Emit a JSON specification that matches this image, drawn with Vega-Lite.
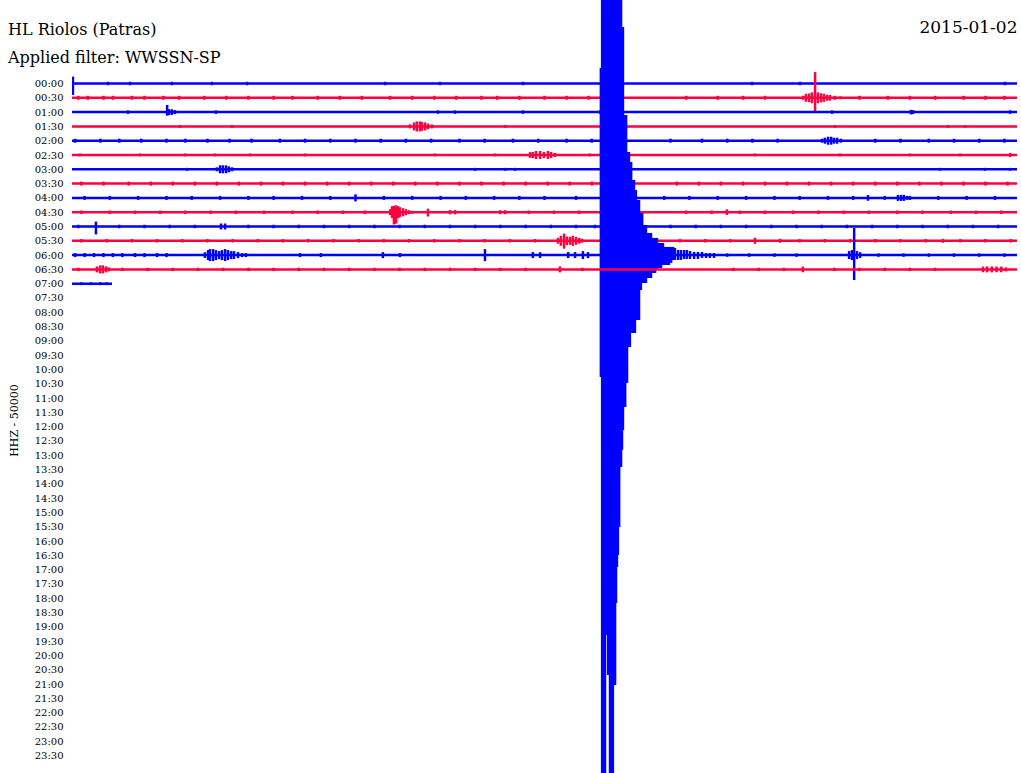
{
"$schema":"https://vega.github.io/schema/vega-lite/v6.json",
"width":945,"height":773,
"autosize":{"type":"none"},
"padding":{"left":72,"top":0,"right":4,"bottom":0},
"background":"#ffffff",
"config":{"view":{"stroke":null}},
"title":{"text":"HL Riolos (Patras)","subtitle":"Applied filter: WWSSN-SP","anchor":"start","frame":"group","orient":"top","dx":-64,"offset":-66,"font":"DejaVu Serif","fontSize":16,"fontWeight":"normal","color":"#000000","subtitleFont":"DejaVu Serif","subtitleFontSize":16,"subtitleColor":"#000000","subtitlePadding":12},
"data":{"values":[
{"r":0,"t":0,"t2":30,"lo":0,"hi":0},
{"r":0,"t":0.03,"t2":0.03,"lo":-0.48,"hi":0.8},
{"r":0,"t":1.14,"t2":1.14,"lo":-0.12,"hi":0.12},
{"r":0,"t":1.84,"t2":1.84,"lo":-0.12,"hi":0.12},
{"r":0,"t":3.17,"t2":3.17,"lo":-0.12,"hi":0.12},
{"r":0,"t":4.44,"t2":4.44,"lo":-0.12,"hi":0.12},
{"r":0,"t":5.56,"t2":5.56,"lo":-0.12,"hi":0.12},
{"r":0,"t":9.94,"t2":9.94,"lo":-0.12,"hi":0.12},
{"r":0,"t":11.68,"t2":11.68,"lo":-0.12,"hi":0.12},
{"r":0,"t":14.32,"t2":14.32,"lo":-0.12,"hi":0.12},
{"r":0,"t":21.59,"t2":21.59,"lo":-0.12,"hi":0.12},
{"r":0,"t":23.11,"t2":23.11,"lo":-0.12,"hi":0.12},
{"r":0,"t":29.62,"t2":29.62,"lo":-0.12,"hi":0.12},
{"r":1,"t":0,"t2":30,"lo":1,"hi":1},
{"r":1,"t":0.2,"t2":0.2,"lo":0.86,"hi":1.14},
{"r":1,"t":0.5,"t2":0.5,"lo":0.86,"hi":1.14},
{"r":1,"t":1.0,"t2":1.0,"lo":0.86,"hi":1.14},
{"r":1,"t":1.3,"t2":1.3,"lo":0.86,"hi":1.14},
{"r":1,"t":1.9,"t2":1.9,"lo":0.86,"hi":1.14},
{"r":1,"t":2.3,"t2":2.3,"lo":0.86,"hi":1.14},
{"r":1,"t":2.9,"t2":2.9,"lo":0.86,"hi":1.14},
{"r":1,"t":3.4,"t2":3.4,"lo":0.86,"hi":1.14},
{"r":1,"t":4.2,"t2":4.2,"lo":0.86,"hi":1.14},
{"r":1,"t":4.9,"t2":4.9,"lo":0.86,"hi":1.14},
{"r":1,"t":5.6,"t2":5.6,"lo":0.86,"hi":1.14},
{"r":1,"t":6.4,"t2":6.4,"lo":0.86,"hi":1.14},
{"r":1,"t":7.0,"t2":7.0,"lo":0.86,"hi":1.14},
{"r":1,"t":7.8,"t2":7.8,"lo":0.86,"hi":1.14},
{"r":1,"t":8.5,"t2":8.5,"lo":0.86,"hi":1.14},
{"r":1,"t":9.2,"t2":9.2,"lo":0.86,"hi":1.14},
{"r":1,"t":10.1,"t2":10.1,"lo":0.86,"hi":1.14},
{"r":1,"t":10.8,"t2":10.8,"lo":0.86,"hi":1.14},
{"r":1,"t":11.5,"t2":11.5,"lo":0.86,"hi":1.14},
{"r":1,"t":12.2,"t2":12.2,"lo":0.86,"hi":1.14},
{"r":1,"t":13.0,"t2":13.0,"lo":0.86,"hi":1.14},
{"r":1,"t":13.5,"t2":13.5,"lo":0.86,"hi":1.14},
{"r":1,"t":14.2,"t2":14.2,"lo":0.86,"hi":1.14},
{"r":1,"t":15.0,"t2":15.0,"lo":0.86,"hi":1.14},
{"r":1,"t":15.7,"t2":15.7,"lo":0.86,"hi":1.14},
{"r":1,"t":16.4,"t2":16.4,"lo":0.86,"hi":1.14},
{"r":1,"t":19.5,"t2":19.5,"lo":0.86,"hi":1.14},
{"r":1,"t":20.5,"t2":20.5,"lo":0.86,"hi":1.14},
{"r":1,"t":21.3,"t2":21.3,"lo":0.86,"hi":1.14},
{"r":1,"t":22.0,"t2":22.0,"lo":0.86,"hi":1.14},
{"r":1,"t":23.21,"t2":23.21,"lo":0.86,"hi":1.14},
{"r":1,"t":23.30,"t2":23.30,"lo":0.72,"hi":1.28},
{"r":1,"t":23.40,"t2":23.40,"lo":0.7,"hi":1.3},
{"r":1,"t":23.49,"t2":23.49,"lo":0.62,"hi":1.38},
{"r":1,"t":23.59,"t2":23.59,"lo":-0.8,"hi":1.97},
{"r":1,"t":23.68,"t2":23.68,"lo":0.62,"hi":1.38},
{"r":1,"t":23.78,"t2":23.78,"lo":0.68,"hi":1.32},
{"r":1,"t":23.87,"t2":23.87,"lo":0.72,"hi":1.28},
{"r":1,"t":23.97,"t2":23.97,"lo":0.79,"hi":1.21},
{"r":1,"t":24.06,"t2":24.06,"lo":0.8,"hi":1.2},
{"r":1,"t":24.22,"t2":24.22,"lo":0.86,"hi":1.14},
{"r":1,"t":24.38,"t2":24.38,"lo":0.9,"hi":1.1},
{"r":1,"t":25.0,"t2":25.0,"lo":0.86,"hi":1.14},
{"r":1,"t":25.9,"t2":25.9,"lo":0.86,"hi":1.14},
{"r":1,"t":26.6,"t2":26.6,"lo":0.86,"hi":1.14},
{"r":1,"t":27.4,"t2":27.4,"lo":0.86,"hi":1.14},
{"r":1,"t":28.3,"t2":28.3,"lo":0.86,"hi":1.14},
{"r":1,"t":29.0,"t2":29.0,"lo":0.86,"hi":1.14},
{"r":1,"t":29.6,"t2":29.6,"lo":0.86,"hi":1.14},
{"r":2,"t":0,"t2":30,"lo":2,"hi":2},
{"r":2,"t":1.78,"t2":1.78,"lo":1.88,"hi":2.12},
{"r":2,"t":3.02,"t2":3.02,"lo":1.5,"hi":2.25},
{"r":2,"t":3.08,"t2":3.08,"lo":1.79,"hi":2.21},
{"r":2,"t":3.17,"t2":3.17,"lo":1.8,"hi":2.2},
{"r":2,"t":3.27,"t2":3.27,"lo":1.86,"hi":2.14},
{"r":2,"t":4.57,"t2":4.57,"lo":1.88,"hi":2.12},
{"r":2,"t":11.62,"t2":11.62,"lo":1.88,"hi":2.12},
{"r":2,"t":12.16,"t2":12.16,"lo":1.88,"hi":2.12},
{"r":2,"t":14.32,"t2":14.32,"lo":1.88,"hi":2.12},
{"r":2,"t":16.76,"t2":16.76,"lo":1.88,"hi":2.12},
{"r":2,"t":24.13,"t2":24.13,"lo":1.88,"hi":2.12},
{"r":2,"t":26.63,"t2":26.63,"lo":1.84,"hi":2.16},
{"r":2,"t":26.70,"t2":26.70,"lo":1.86,"hi":2.14},
{"r":2,"t":29.78,"t2":29.78,"lo":1.88,"hi":2.12},
{"r":3,"t":0,"t2":30,"lo":3,"hi":3},
{"r":3,"t":3.43,"t2":3.43,"lo":2.9,"hi":3.1},
{"r":3,"t":5.08,"t2":5.08,"lo":2.9,"hi":3.1},
{"r":3,"t":10.73,"t2":10.73,"lo":2.86,"hi":3.14},
{"r":3,"t":10.86,"t2":10.86,"lo":2.72,"hi":3.28},
{"r":3,"t":10.95,"t2":10.95,"lo":2.65,"hi":3.35},
{"r":3,"t":11.05,"t2":11.05,"lo":2.65,"hi":3.35},
{"r":3,"t":11.11,"t2":11.11,"lo":2.7,"hi":3.3},
{"r":3,"t":11.21,"t2":11.21,"lo":2.72,"hi":3.28},
{"r":3,"t":11.30,"t2":11.30,"lo":2.8,"hi":3.2},
{"r":3,"t":11.43,"t2":11.43,"lo":2.86,"hi":3.14},
{"r":3,"t":13.75,"t2":13.75,"lo":2.9,"hi":3.1},
{"r":3,"t":24.22,"t2":24.22,"lo":2.9,"hi":3.1},
{"r":3,"t":27.81,"t2":27.81,"lo":2.9,"hi":3.1},
{"r":3,"t":28.35,"t2":28.35,"lo":2.9,"hi":3.1},
{"r":4,"t":0,"t2":30,"lo":4,"hi":4},
{"r":4,"t":0.1,"t2":0.1,"lo":3.86,"hi":4.14},
{"r":4,"t":0.9,"t2":0.9,"lo":3.86,"hi":4.14},
{"r":4,"t":1.5,"t2":1.5,"lo":3.86,"hi":4.14},
{"r":4,"t":2.2,"t2":2.2,"lo":3.86,"hi":4.14},
{"r":4,"t":3.0,"t2":3.0,"lo":3.86,"hi":4.14},
{"r":4,"t":3.6,"t2":3.6,"lo":3.86,"hi":4.14},
{"r":4,"t":4.3,"t2":4.3,"lo":3.86,"hi":4.14},
{"r":4,"t":5.0,"t2":5.0,"lo":3.86,"hi":4.14},
{"r":4,"t":5.7,"t2":5.7,"lo":3.86,"hi":4.14},
{"r":4,"t":6.6,"t2":6.6,"lo":3.86,"hi":4.14},
{"r":4,"t":7.4,"t2":7.4,"lo":3.86,"hi":4.14},
{"r":4,"t":8.2,"t2":8.2,"lo":3.86,"hi":4.14},
{"r":4,"t":9.0,"t2":9.0,"lo":3.86,"hi":4.14},
{"r":4,"t":9.8,"t2":9.8,"lo":3.86,"hi":4.14},
{"r":4,"t":10.6,"t2":10.6,"lo":3.86,"hi":4.14},
{"r":4,"t":11.4,"t2":11.4,"lo":3.86,"hi":4.14},
{"r":4,"t":12.3,"t2":12.3,"lo":3.86,"hi":4.14},
{"r":4,"t":13.1,"t2":13.1,"lo":3.86,"hi":4.14},
{"r":4,"t":14.0,"t2":14.0,"lo":3.86,"hi":4.14},
{"r":4,"t":14.8,"t2":14.8,"lo":3.86,"hi":4.14},
{"r":4,"t":15.7,"t2":15.7,"lo":3.86,"hi":4.14},
{"r":4,"t":16.5,"t2":16.5,"lo":3.86,"hi":4.14},
{"r":4,"t":19.0,"t2":19.0,"lo":3.86,"hi":4.14},
{"r":4,"t":20.0,"t2":20.0,"lo":3.86,"hi":4.14},
{"r":4,"t":20.8,"t2":20.8,"lo":3.86,"hi":4.14},
{"r":4,"t":21.6,"t2":21.6,"lo":3.86,"hi":4.14},
{"r":4,"t":22.4,"t2":22.4,"lo":3.86,"hi":4.14},
{"r":4,"t":23.81,"t2":23.81,"lo":3.86,"hi":4.14},
{"r":4,"t":23.90,"t2":23.90,"lo":3.79,"hi":4.21},
{"r":4,"t":24.0,"t2":24.0,"lo":3.72,"hi":4.28},
{"r":4,"t":24.1,"t2":24.1,"lo":3.72,"hi":4.28},
{"r":4,"t":24.19,"t2":24.19,"lo":3.79,"hi":4.21},
{"r":4,"t":24.29,"t2":24.29,"lo":3.79,"hi":4.21},
{"r":4,"t":24.41,"t2":24.41,"lo":3.86,"hi":4.14},
{"r":4,"t":25.5,"t2":25.5,"lo":3.86,"hi":4.14},
{"r":4,"t":26.3,"t2":26.3,"lo":3.86,"hi":4.14},
{"r":4,"t":27.2,"t2":27.2,"lo":3.86,"hi":4.14},
{"r":4,"t":28.0,"t2":28.0,"lo":3.86,"hi":4.14},
{"r":4,"t":28.8,"t2":28.8,"lo":3.86,"hi":4.14},
{"r":4,"t":29.6,"t2":29.6,"lo":3.86,"hi":4.14},
{"r":5,"t":0,"t2":30,"lo":5,"hi":5},
{"r":5,"t":0.25,"t2":0.25,"lo":4.9,"hi":5.1},
{"r":5,"t":2.16,"t2":2.16,"lo":4.9,"hi":5.1},
{"r":5,"t":3.59,"t2":3.59,"lo":4.9,"hi":5.1},
{"r":5,"t":4.54,"t2":4.54,"lo":4.9,"hi":5.1},
{"r":5,"t":5.65,"t2":5.65,"lo":4.9,"hi":5.1},
{"r":5,"t":7.4,"t2":7.4,"lo":4.9,"hi":5.1},
{"r":5,"t":11.52,"t2":11.52,"lo":4.9,"hi":5.1},
{"r":5,"t":13.43,"t2":13.43,"lo":4.9,"hi":5.1},
{"r":5,"t":14.54,"t2":14.54,"lo":4.8,"hi":5.2},
{"r":5,"t":14.63,"t2":14.63,"lo":4.79,"hi":5.21},
{"r":5,"t":14.73,"t2":14.73,"lo":4.72,"hi":5.28},
{"r":5,"t":14.86,"t2":14.86,"lo":4.72,"hi":5.28},
{"r":5,"t":14.98,"t2":14.98,"lo":4.79,"hi":5.21},
{"r":5,"t":15.11,"t2":15.11,"lo":4.72,"hi":5.28},
{"r":5,"t":15.21,"t2":15.21,"lo":4.79,"hi":5.21},
{"r":5,"t":15.33,"t2":15.33,"lo":4.86,"hi":5.14},
{"r":5,"t":16.44,"t2":16.44,"lo":4.9,"hi":5.1},
{"r":5,"t":21.68,"t2":21.68,"lo":4.9,"hi":5.1},
{"r":5,"t":24.38,"t2":24.38,"lo":4.9,"hi":5.1},
{"r":5,"t":26.6,"t2":26.6,"lo":4.9,"hi":5.1},
{"r":5,"t":28.19,"t2":28.19,"lo":4.9,"hi":5.1},
{"r":5,"t":29.78,"t2":29.78,"lo":4.85,"hi":5.15},
{"r":6,"t":0,"t2":30,"lo":6,"hi":6},
{"r":6,"t":3.65,"t2":3.65,"lo":5.9,"hi":6.1},
{"r":6,"t":4.60,"t2":4.60,"lo":5.86,"hi":6.14},
{"r":6,"t":4.70,"t2":4.70,"lo":5.72,"hi":6.28},
{"r":6,"t":4.79,"t2":4.79,"lo":5.72,"hi":6.28},
{"r":6,"t":4.89,"t2":4.89,"lo":5.72,"hi":6.28},
{"r":6,"t":4.98,"t2":4.98,"lo":5.79,"hi":6.21},
{"r":6,"t":5.08,"t2":5.08,"lo":5.86,"hi":6.14},
{"r":6,"t":12.79,"t2":12.79,"lo":5.9,"hi":6.1},
{"r":6,"t":13.75,"t2":13.75,"lo":5.9,"hi":6.1},
{"r":6,"t":14.06,"t2":14.06,"lo":5.9,"hi":6.1},
{"r":6,"t":27.56,"t2":27.56,"lo":5.9,"hi":6.1},
{"r":6,"t":28.98,"t2":28.98,"lo":5.9,"hi":6.1},
{"r":6,"t":29.78,"t2":29.78,"lo":5.9,"hi":6.1},
{"r":7,"t":0,"t2":30,"lo":7,"hi":7},
{"r":7,"t":0.3,"t2":0.3,"lo":6.86,"hi":7.14},
{"r":7,"t":1.0,"t2":1.0,"lo":6.86,"hi":7.14},
{"r":7,"t":1.8,"t2":1.8,"lo":6.86,"hi":7.14},
{"r":7,"t":2.5,"t2":2.5,"lo":6.86,"hi":7.14},
{"r":7,"t":3.2,"t2":3.2,"lo":6.86,"hi":7.14},
{"r":7,"t":3.9,"t2":3.9,"lo":6.86,"hi":7.14},
{"r":7,"t":4.6,"t2":4.6,"lo":6.86,"hi":7.14},
{"r":7,"t":5.3,"t2":5.3,"lo":6.86,"hi":7.14},
{"r":7,"t":6.0,"t2":6.0,"lo":6.86,"hi":7.14},
{"r":7,"t":6.7,"t2":6.7,"lo":6.86,"hi":7.14},
{"r":7,"t":7.4,"t2":7.4,"lo":6.86,"hi":7.14},
{"r":7,"t":8.1,"t2":8.1,"lo":6.86,"hi":7.14},
{"r":7,"t":8.8,"t2":8.8,"lo":6.86,"hi":7.14},
{"r":7,"t":9.5,"t2":9.5,"lo":6.86,"hi":7.14},
{"r":7,"t":10.2,"t2":10.2,"lo":6.86,"hi":7.14},
{"r":7,"t":10.9,"t2":10.9,"lo":6.86,"hi":7.14},
{"r":7,"t":11.6,"t2":11.6,"lo":6.86,"hi":7.14},
{"r":7,"t":12.3,"t2":12.3,"lo":6.86,"hi":7.14},
{"r":7,"t":13.0,"t2":13.0,"lo":6.86,"hi":7.14},
{"r":7,"t":13.7,"t2":13.7,"lo":6.86,"hi":7.14},
{"r":7,"t":14.4,"t2":14.4,"lo":6.86,"hi":7.14},
{"r":7,"t":15.1,"t2":15.1,"lo":6.86,"hi":7.14},
{"r":7,"t":15.8,"t2":15.8,"lo":6.86,"hi":7.14},
{"r":7,"t":16.5,"t2":16.5,"lo":6.86,"hi":7.14},
{"r":7,"t":19.2,"t2":19.2,"lo":6.86,"hi":7.14},
{"r":7,"t":19.9,"t2":19.9,"lo":6.86,"hi":7.14},
{"r":7,"t":20.6,"t2":20.6,"lo":6.86,"hi":7.14},
{"r":7,"t":21.3,"t2":21.3,"lo":6.86,"hi":7.14},
{"r":7,"t":22.0,"t2":22.0,"lo":6.86,"hi":7.14},
{"r":7,"t":22.7,"t2":22.7,"lo":6.86,"hi":7.14},
{"r":7,"t":23.4,"t2":23.4,"lo":6.86,"hi":7.14},
{"r":7,"t":24.1,"t2":24.1,"lo":6.86,"hi":7.14},
{"r":7,"t":24.8,"t2":24.8,"lo":6.86,"hi":7.14},
{"r":7,"t":25.5,"t2":25.5,"lo":6.86,"hi":7.14},
{"r":7,"t":26.2,"t2":26.2,"lo":6.86,"hi":7.14},
{"r":7,"t":26.9,"t2":26.9,"lo":6.86,"hi":7.14},
{"r":7,"t":27.6,"t2":27.6,"lo":6.86,"hi":7.14},
{"r":7,"t":28.3,"t2":28.3,"lo":6.86,"hi":7.14},
{"r":7,"t":29.0,"t2":29.0,"lo":6.86,"hi":7.14},
{"r":7,"t":29.7,"t2":29.7,"lo":6.86,"hi":7.14},
{"r":8,"t":0,"t2":30,"lo":8,"hi":8},
{"r":8,"t":0.4,"t2":0.4,"lo":7.86,"hi":8.14},
{"r":8,"t":1.2,"t2":1.2,"lo":7.86,"hi":8.14},
{"r":8,"t":2.1,"t2":2.1,"lo":7.86,"hi":8.14},
{"r":8,"t":3.0,"t2":3.0,"lo":7.86,"hi":8.14},
{"r":8,"t":3.8,"t2":3.8,"lo":7.86,"hi":8.14},
{"r":8,"t":4.7,"t2":4.7,"lo":7.86,"hi":8.14},
{"r":8,"t":5.6,"t2":5.6,"lo":7.86,"hi":8.14},
{"r":8,"t":6.4,"t2":6.4,"lo":7.86,"hi":8.14},
{"r":8,"t":7.3,"t2":7.3,"lo":7.86,"hi":8.14},
{"r":8,"t":8.2,"t2":8.2,"lo":7.86,"hi":8.14},
{"r":8,"t":9.0,"t2":9.0,"lo":7.75,"hi":8.25},
{"r":8,"t":9.9,"t2":9.9,"lo":7.86,"hi":8.14},
{"r":8,"t":10.8,"t2":10.8,"lo":7.86,"hi":8.14},
{"r":8,"t":11.7,"t2":11.7,"lo":7.86,"hi":8.14},
{"r":8,"t":12.5,"t2":12.5,"lo":7.86,"hi":8.14},
{"r":8,"t":13.4,"t2":13.4,"lo":7.86,"hi":8.14},
{"r":8,"t":14.2,"t2":14.2,"lo":7.86,"hi":8.14},
{"r":8,"t":15.0,"t2":15.0,"lo":7.86,"hi":8.14},
{"r":8,"t":16.0,"t2":16.0,"lo":7.86,"hi":8.14},
{"r":8,"t":18.8,"t2":18.8,"lo":7.86,"hi":8.14},
{"r":8,"t":19.6,"t2":19.6,"lo":7.86,"hi":8.14},
{"r":8,"t":20.5,"t2":20.5,"lo":7.86,"hi":8.14},
{"r":8,"t":21.4,"t2":21.4,"lo":7.86,"hi":8.14},
{"r":8,"t":22.3,"t2":22.3,"lo":7.86,"hi":8.14},
{"r":8,"t":23.1,"t2":23.1,"lo":7.86,"hi":8.14},
{"r":8,"t":24.0,"t2":24.0,"lo":7.86,"hi":8.14},
{"r":8,"t":24.8,"t2":24.8,"lo":7.86,"hi":8.14},
{"r":8,"t":25.27,"t2":25.27,"lo":7.8,"hi":8.2},
{"r":8,"t":25.8,"t2":25.8,"lo":7.86,"hi":8.14},
{"r":8,"t":26.22,"t2":26.22,"lo":7.79,"hi":8.21},
{"r":8,"t":26.32,"t2":26.32,"lo":7.79,"hi":8.21},
{"r":8,"t":26.41,"t2":26.41,"lo":7.79,"hi":8.21},
{"r":8,"t":26.51,"t2":26.51,"lo":7.86,"hi":8.14},
{"r":8,"t":26.6,"t2":26.6,"lo":7.86,"hi":8.14},
{"r":8,"t":27.5,"t2":27.5,"lo":7.86,"hi":8.14},
{"r":8,"t":28.4,"t2":28.4,"lo":7.86,"hi":8.14},
{"r":8,"t":29.3,"t2":29.3,"lo":7.86,"hi":8.14},
{"r":9,"t":0,"t2":30,"lo":9,"hi":9},
{"r":9,"t":0.3,"t2":0.3,"lo":8.88,"hi":9.12},
{"r":9,"t":1.2,"t2":1.2,"lo":8.88,"hi":9.12},
{"r":9,"t":2.0,"t2":2.0,"lo":8.88,"hi":9.12},
{"r":9,"t":2.8,"t2":2.8,"lo":8.88,"hi":9.12},
{"r":9,"t":3.6,"t2":3.6,"lo":8.88,"hi":9.12},
{"r":9,"t":4.4,"t2":4.4,"lo":8.88,"hi":9.12},
{"r":9,"t":5.2,"t2":5.2,"lo":8.88,"hi":9.12},
{"r":9,"t":6.1,"t2":6.1,"lo":8.88,"hi":9.12},
{"r":9,"t":7.0,"t2":7.0,"lo":8.88,"hi":9.12},
{"r":9,"t":7.8,"t2":7.8,"lo":8.88,"hi":9.12},
{"r":9,"t":8.6,"t2":8.6,"lo":8.88,"hi":9.12},
{"r":9,"t":9.3,"t2":9.3,"lo":8.88,"hi":9.12},
{"r":9,"t":10.10,"t2":10.10,"lo":8.79,"hi":9.21},
{"r":9,"t":10.16,"t2":10.16,"lo":8.58,"hi":9.42},
{"r":9,"t":10.22,"t2":10.22,"lo":8.55,"hi":9.86},
{"r":9,"t":10.29,"t2":10.29,"lo":8.52,"hi":9.8},
{"r":9,"t":10.35,"t2":10.35,"lo":8.58,"hi":9.42},
{"r":9,"t":10.41,"t2":10.41,"lo":8.65,"hi":9.35},
{"r":9,"t":10.51,"t2":10.51,"lo":8.72,"hi":9.28},
{"r":9,"t":10.60,"t2":10.60,"lo":8.79,"hi":9.21},
{"r":9,"t":10.70,"t2":10.70,"lo":8.86,"hi":9.14},
{"r":9,"t":10.8,"t2":10.8,"lo":8.9,"hi":9.1},
{"r":9,"t":11.30,"t2":11.30,"lo":8.75,"hi":9.3},
{"r":9,"t":12.0,"t2":12.0,"lo":8.85,"hi":9.15},
{"r":9,"t":12.16,"t2":12.16,"lo":8.85,"hi":9.15},
{"r":9,"t":13.59,"t2":13.59,"lo":8.86,"hi":9.14},
{"r":9,"t":13.75,"t2":13.75,"lo":8.86,"hi":9.14},
{"r":9,"t":14.5,"t2":14.5,"lo":8.88,"hi":9.12},
{"r":9,"t":15.3,"t2":15.3,"lo":8.88,"hi":9.12},
{"r":9,"t":16.1,"t2":16.1,"lo":8.88,"hi":9.12},
{"r":9,"t":19.5,"t2":19.5,"lo":8.88,"hi":9.12},
{"r":9,"t":20.3,"t2":20.3,"lo":8.88,"hi":9.12},
{"r":9,"t":20.79,"t2":20.79,"lo":8.8,"hi":9.2},
{"r":9,"t":21.2,"t2":21.2,"lo":8.88,"hi":9.12},
{"r":9,"t":22.0,"t2":22.0,"lo":8.88,"hi":9.12},
{"r":9,"t":22.9,"t2":22.9,"lo":8.88,"hi":9.12},
{"r":9,"t":23.7,"t2":23.7,"lo":8.88,"hi":9.12},
{"r":9,"t":24.5,"t2":24.5,"lo":8.88,"hi":9.12},
{"r":9,"t":25.3,"t2":25.3,"lo":8.88,"hi":9.12},
{"r":9,"t":26.2,"t2":26.2,"lo":8.88,"hi":9.12},
{"r":9,"t":27.0,"t2":27.0,"lo":8.88,"hi":9.12},
{"r":9,"t":27.9,"t2":27.9,"lo":8.88,"hi":9.12},
{"r":9,"t":28.7,"t2":28.7,"lo":8.88,"hi":9.12},
{"r":9,"t":29.5,"t2":29.5,"lo":8.88,"hi":9.12},
{"r":10,"t":0,"t2":30,"lo":10,"hi":10},
{"r":10,"t":0.2,"t2":0.2,"lo":9.88,"hi":10.12},
{"r":10,"t":0.76,"t2":0.76,"lo":9.66,"hi":10.55},
{"r":10,"t":1.5,"t2":1.5,"lo":9.88,"hi":10.12},
{"r":10,"t":2.3,"t2":2.3,"lo":9.88,"hi":10.12},
{"r":10,"t":3.1,"t2":3.1,"lo":9.88,"hi":10.12},
{"r":10,"t":3.9,"t2":3.9,"lo":9.88,"hi":10.12},
{"r":10,"t":4.73,"t2":4.73,"lo":9.79,"hi":10.21},
{"r":10,"t":4.86,"t2":4.86,"lo":9.79,"hi":10.21},
{"r":10,"t":5.6,"t2":5.6,"lo":9.88,"hi":10.12},
{"r":10,"t":6.4,"t2":6.4,"lo":9.88,"hi":10.12},
{"r":10,"t":7.2,"t2":7.2,"lo":9.88,"hi":10.12},
{"r":10,"t":8.0,"t2":8.0,"lo":9.88,"hi":10.12},
{"r":10,"t":8.8,"t2":8.8,"lo":9.88,"hi":10.12},
{"r":10,"t":9.6,"t2":9.6,"lo":9.88,"hi":10.12},
{"r":10,"t":10.4,"t2":10.4,"lo":9.88,"hi":10.12},
{"r":10,"t":11.2,"t2":11.2,"lo":9.88,"hi":10.12},
{"r":10,"t":12.0,"t2":12.0,"lo":9.88,"hi":10.12},
{"r":10,"t":12.8,"t2":12.8,"lo":9.88,"hi":10.12},
{"r":10,"t":13.6,"t2":13.6,"lo":9.88,"hi":10.12},
{"r":10,"t":14.4,"t2":14.4,"lo":9.88,"hi":10.12},
{"r":10,"t":15.2,"t2":15.2,"lo":9.88,"hi":10.12},
{"r":10,"t":16.0,"t2":16.0,"lo":9.88,"hi":10.12},
{"r":10,"t":16.6,"t2":16.6,"lo":9.88,"hi":10.12},
{"r":10,"t":19.0,"t2":19.0,"lo":9.88,"hi":10.12},
{"r":10,"t":19.8,"t2":19.8,"lo":9.88,"hi":10.12},
{"r":10,"t":20.6,"t2":20.6,"lo":9.88,"hi":10.12},
{"r":10,"t":21.4,"t2":21.4,"lo":9.88,"hi":10.12},
{"r":10,"t":22.2,"t2":22.2,"lo":9.88,"hi":10.12},
{"r":10,"t":23.0,"t2":23.0,"lo":9.88,"hi":10.12},
{"r":10,"t":23.8,"t2":23.8,"lo":9.88,"hi":10.12},
{"r":10,"t":24.6,"t2":24.6,"lo":9.88,"hi":10.12},
{"r":10,"t":25.4,"t2":25.4,"lo":9.88,"hi":10.12},
{"r":10,"t":26.2,"t2":26.2,"lo":9.88,"hi":10.12},
{"r":10,"t":27.0,"t2":27.0,"lo":9.88,"hi":10.12},
{"r":10,"t":27.8,"t2":27.8,"lo":9.88,"hi":10.12},
{"r":10,"t":28.6,"t2":28.6,"lo":9.88,"hi":10.12},
{"r":10,"t":29.4,"t2":29.4,"lo":9.88,"hi":10.12},
{"r":11,"t":0,"t2":30,"lo":11,"hi":11},
{"r":11,"t":0.3,"t2":0.3,"lo":10.88,"hi":11.12},
{"r":11,"t":1.1,"t2":1.1,"lo":10.88,"hi":11.12},
{"r":11,"t":1.9,"t2":1.9,"lo":10.88,"hi":11.12},
{"r":11,"t":2.7,"t2":2.7,"lo":10.88,"hi":11.12},
{"r":11,"t":3.5,"t2":3.5,"lo":10.88,"hi":11.12},
{"r":11,"t":4.3,"t2":4.3,"lo":10.88,"hi":11.12},
{"r":11,"t":5.1,"t2":5.1,"lo":10.88,"hi":11.12},
{"r":11,"t":5.9,"t2":5.9,"lo":10.88,"hi":11.12},
{"r":11,"t":6.7,"t2":6.7,"lo":10.88,"hi":11.12},
{"r":11,"t":7.5,"t2":7.5,"lo":10.88,"hi":11.12},
{"r":11,"t":8.3,"t2":8.3,"lo":10.88,"hi":11.12},
{"r":11,"t":9.1,"t2":9.1,"lo":10.88,"hi":11.12},
{"r":11,"t":9.9,"t2":9.9,"lo":10.88,"hi":11.12},
{"r":11,"t":10.7,"t2":10.7,"lo":10.88,"hi":11.12},
{"r":11,"t":11.5,"t2":11.5,"lo":10.88,"hi":11.12},
{"r":11,"t":12.3,"t2":12.3,"lo":10.88,"hi":11.12},
{"r":11,"t":13.1,"t2":13.1,"lo":10.88,"hi":11.12},
{"r":11,"t":13.9,"t2":13.9,"lo":10.88,"hi":11.12},
{"r":11,"t":14.7,"t2":14.7,"lo":10.88,"hi":11.12},
{"r":11,"t":15.43,"t2":15.43,"lo":10.79,"hi":11.21},
{"r":11,"t":15.52,"t2":15.52,"lo":10.65,"hi":11.35},
{"r":11,"t":15.62,"t2":15.62,"lo":10.5,"hi":11.55},
{"r":11,"t":15.71,"t2":15.71,"lo":10.7,"hi":11.3},
{"r":11,"t":15.81,"t2":15.81,"lo":10.72,"hi":11.28},
{"r":11,"t":15.9,"t2":15.9,"lo":10.65,"hi":11.35},
{"r":11,"t":16.0,"t2":16.0,"lo":10.72,"hi":11.28},
{"r":11,"t":16.1,"t2":16.1,"lo":10.8,"hi":11.2},
{"r":11,"t":16.19,"t2":16.19,"lo":10.86,"hi":11.14},
{"r":11,"t":19.3,"t2":19.3,"lo":10.88,"hi":11.12},
{"r":11,"t":20.1,"t2":20.1,"lo":10.88,"hi":11.12},
{"r":11,"t":20.9,"t2":20.9,"lo":10.88,"hi":11.12},
{"r":11,"t":21.68,"t2":21.68,"lo":10.79,"hi":11.21},
{"r":11,"t":22.48,"t2":22.48,"lo":10.86,"hi":11.14},
{"r":11,"t":23.1,"t2":23.1,"lo":10.88,"hi":11.12},
{"r":11,"t":23.9,"t2":23.9,"lo":10.88,"hi":11.12},
{"r":11,"t":24.7,"t2":24.7,"lo":10.88,"hi":11.12},
{"r":11,"t":25.5,"t2":25.5,"lo":10.88,"hi":11.12},
{"r":11,"t":26.3,"t2":26.3,"lo":10.88,"hi":11.12},
{"r":11,"t":27.1,"t2":27.1,"lo":10.88,"hi":11.12},
{"r":11,"t":27.65,"t2":27.65,"lo":10.86,"hi":11.14},
{"r":11,"t":28.2,"t2":28.2,"lo":10.88,"hi":11.12},
{"r":11,"t":29.0,"t2":29.0,"lo":10.88,"hi":11.12},
{"r":11,"t":29.8,"t2":29.8,"lo":10.88,"hi":11.12},
{"r":12,"t":0,"t2":30,"lo":12,"hi":12},
{"r":12,"t":0.1,"t2":0.1,"lo":11.86,"hi":12.14},
{"r":12,"t":0.4,"t2":0.4,"lo":11.86,"hi":12.14},
{"r":12,"t":0.7,"t2":0.7,"lo":11.86,"hi":12.14},
{"r":12,"t":1.0,"t2":1.0,"lo":11.86,"hi":12.14},
{"r":12,"t":1.3,"t2":1.3,"lo":11.86,"hi":12.14},
{"r":12,"t":1.6,"t2":1.6,"lo":11.86,"hi":12.14},
{"r":12,"t":2.0,"t2":2.0,"lo":11.86,"hi":12.14},
{"r":12,"t":2.3,"t2":2.3,"lo":11.86,"hi":12.14},
{"r":12,"t":2.7,"t2":2.7,"lo":11.86,"hi":12.14},
{"r":12,"t":3.0,"t2":3.0,"lo":11.86,"hi":12.14},
{"r":12,"t":4.22,"t2":4.22,"lo":11.8,"hi":12.2},
{"r":12,"t":4.32,"t2":4.32,"lo":11.65,"hi":12.35},
{"r":12,"t":4.38,"t2":4.38,"lo":11.58,"hi":12.42},
{"r":12,"t":4.48,"t2":4.48,"lo":11.58,"hi":12.42},
{"r":12,"t":4.57,"t2":4.57,"lo":11.65,"hi":12.35},
{"r":12,"t":4.67,"t2":4.67,"lo":11.72,"hi":12.28},
{"r":12,"t":4.76,"t2":4.76,"lo":11.65,"hi":12.35},
{"r":12,"t":4.86,"t2":4.86,"lo":11.58,"hi":12.42},
{"r":12,"t":4.95,"t2":4.95,"lo":11.65,"hi":12.35},
{"r":12,"t":5.05,"t2":5.05,"lo":11.72,"hi":12.28},
{"r":12,"t":5.14,"t2":5.14,"lo":11.72,"hi":12.28},
{"r":12,"t":5.27,"t2":5.27,"lo":11.79,"hi":12.21},
{"r":12,"t":5.40,"t2":5.40,"lo":11.86,"hi":12.14},
{"r":12,"t":5.52,"t2":5.52,"lo":11.86,"hi":12.14},
{"r":12,"t":7.24,"t2":7.24,"lo":11.86,"hi":12.14},
{"r":12,"t":7.9,"t2":7.9,"lo":11.86,"hi":12.14},
{"r":12,"t":9.87,"t2":9.87,"lo":11.79,"hi":12.21},
{"r":12,"t":10.41,"t2":10.41,"lo":11.86,"hi":12.14},
{"r":12,"t":13.11,"t2":13.11,"lo":11.58,"hi":12.42},
{"r":12,"t":14.63,"t2":14.63,"lo":11.79,"hi":12.21},
{"r":12,"t":14.86,"t2":14.86,"lo":11.8,"hi":12.2},
{"r":12,"t":15.75,"t2":15.75,"lo":11.79,"hi":12.21},
{"r":12,"t":15.97,"t2":15.97,"lo":11.79,"hi":12.21},
{"r":12,"t":16.22,"t2":16.22,"lo":11.72,"hi":12.28},
{"r":12,"t":16.38,"t2":16.38,"lo":11.79,"hi":12.21},
{"r":12,"t":16.79,"t2":16.79,"lo":-1.08,"hi":20.52},
{"r":12,"t":16.83,"t2":16.83,"lo":-5.84,"hi":48.22},
{"r":12,"t":16.86,"t2":16.86,"lo":-5.84,"hi":48.22},
{"r":12,"t":16.89,"t2":16.89,"lo":-5.84,"hi":48.22},
{"r":12,"t":16.92,"t2":16.92,"lo":-5.84,"hi":48.22},
{"r":12,"t":16.95,"t2":16.95,"lo":-5.84,"hi":38.57},
{"r":12,"t":16.98,"t2":16.98,"lo":-5.84,"hi":38.57},
{"r":12,"t":17.02,"t2":17.02,"lo":-5.84,"hi":41.36},
{"r":12,"t":17.05,"t2":17.05,"lo":-5.84,"hi":41.36},
{"r":12,"t":17.08,"t2":17.08,"lo":-5.84,"hi":48.22},
{"r":12,"t":17.11,"t2":17.11,"lo":-5.84,"hi":48.22},
{"r":12,"t":17.14,"t2":17.14,"lo":-5.84,"hi":48.22},
{"r":12,"t":17.17,"t2":17.17,"lo":-5.84,"hi":48.22},
{"r":12,"t":17.21,"t2":17.21,"lo":-5.84,"hi":42.06},
{"r":12,"t":17.24,"t2":17.24,"lo":-5.84,"hi":42.06},
{"r":12,"t":17.27,"t2":17.27,"lo":-5.84,"hi":36.33},
{"r":12,"t":17.30,"t2":17.30,"lo":-5.84,"hi":33.81},
{"r":12,"t":17.33,"t2":17.33,"lo":-2.83,"hi":32.97},
{"r":12,"t":17.37,"t2":17.37,"lo":-5.84,"hi":31.01},
{"r":12,"t":17.40,"t2":17.40,"lo":-5.84,"hi":26.82},
{"r":12,"t":17.43,"t2":17.43,"lo":-5.84,"hi":26.82},
{"r":12,"t":17.46,"t2":17.46,"lo":-3.95,"hi":25.63},
{"r":12,"t":17.49,"t2":17.49,"lo":-3.95,"hi":24.23},
{"r":12,"t":17.52,"t2":17.52,"lo":2.20,"hi":22.62},
{"r":12,"t":17.56,"t2":17.56,"lo":2.20,"hi":22.62},
{"r":12,"t":17.59,"t2":17.59,"lo":2.20,"hi":20.94},
{"r":12,"t":17.62,"t2":17.62,"lo":4.79,"hi":20.94},
{"r":12,"t":17.65,"t2":17.65,"lo":4.79,"hi":18.43},
{"r":12,"t":17.68,"t2":17.68,"lo":4.79,"hi":18.43},
{"r":12,"t":17.71,"t2":17.71,"lo":5.49,"hi":18.43},
{"r":12,"t":17.75,"t2":17.75,"lo":5.49,"hi":17.45},
{"r":12,"t":17.78,"t2":17.78,"lo":6.75,"hi":17.45},
{"r":12,"t":17.81,"t2":17.81,"lo":6.75,"hi":17.45},
{"r":12,"t":17.84,"t2":17.84,"lo":6.75,"hi":17.45},
{"r":12,"t":17.87,"t2":17.87,"lo":7.45,"hi":17.45},
{"r":12,"t":17.90,"t2":17.90,"lo":7.45,"hi":16.54},
{"r":12,"t":17.94,"t2":17.94,"lo":8.15,"hi":16.54},
{"r":12,"t":17.97,"t2":17.97,"lo":8.15,"hi":16.54},
{"r":12,"t":18.00,"t2":18.00,"lo":8.15,"hi":16.54},
{"r":12,"t":18.03,"t2":18.03,"lo":9.06,"hi":14.44},
{"r":12,"t":18.06,"t2":18.06,"lo":9.06,"hi":14.44},
{"r":12,"t":18.10,"t2":18.10,"lo":9.06,"hi":13.95},
{"r":12,"t":18.13,"t2":18.13,"lo":9.90,"hi":13.95},
{"r":12,"t":18.16,"t2":18.16,"lo":9.90,"hi":13.95},
{"r":12,"t":18.19,"t2":18.19,"lo":9.90,"hi":13.95},
{"r":12,"t":18.22,"t2":18.22,"lo":9.90,"hi":13.95},
{"r":12,"t":18.25,"t2":18.25,"lo":10.45,"hi":13.60},
{"r":12,"t":18.32,"t2":18.32,"lo":10.45,"hi":13.60},
{"r":12,"t":18.38,"t2":18.38,"lo":10.45,"hi":13.60},
{"r":12,"t":18.44,"t2":18.44,"lo":10.80,"hi":13.25},
{"r":12,"t":18.51,"t2":18.51,"lo":10.80,"hi":13.25},
{"r":12,"t":18.57,"t2":18.57,"lo":10.80,"hi":13.04},
{"r":12,"t":18.63,"t2":18.63,"lo":11.15,"hi":12.90},
{"r":12,"t":18.70,"t2":18.70,"lo":11.15,"hi":12.90},
{"r":12,"t":18.76,"t2":18.76,"lo":11.15,"hi":12.69},
{"r":12,"t":18.83,"t2":18.83,"lo":11.43,"hi":12.69},
{"r":12,"t":18.89,"t2":18.89,"lo":11.43,"hi":12.69},
{"r":12,"t":18.95,"t2":18.95,"lo":11.43,"hi":12.69},
{"r":12,"t":19.02,"t2":19.02,"lo":11.43,"hi":12.55},
{"r":12,"t":19.08,"t2":19.08,"lo":11.43,"hi":12.34},
{"r":12,"t":19.14,"t2":19.14,"lo":11.50,"hi":12.34},
{"r":12,"t":19.24,"t2":19.24,"lo":11.64,"hi":12.34},
{"r":12,"t":19.33,"t2":19.33,"lo":11.64,"hi":12.34},
{"r":12,"t":19.43,"t2":19.43,"lo":11.64,"hi":12.27},
{"r":12,"t":19.52,"t2":19.52,"lo":11.64,"hi":12.27},
{"r":12,"t":19.62,"t2":19.62,"lo":11.71,"hi":12.27},
{"r":12,"t":19.75,"t2":19.75,"lo":11.78,"hi":12.27},
{"r":12,"t":19.87,"t2":19.87,"lo":11.78,"hi":12.27},
{"r":12,"t":20.00,"t2":20.00,"lo":11.78,"hi":12.20},
{"r":12,"t":20.13,"t2":20.13,"lo":11.85,"hi":12.20},
{"r":12,"t":20.25,"t2":20.25,"lo":11.85,"hi":12.20},
{"r":12,"t":20.38,"t2":20.38,"lo":11.85,"hi":12.20},
{"r":12,"t":20.8,"t2":20.8,"lo":11.88,"hi":12.12},
{"r":12,"t":21.5,"t2":21.5,"lo":11.88,"hi":12.12},
{"r":12,"t":22.3,"t2":22.3,"lo":11.88,"hi":12.12},
{"r":12,"t":23.0,"t2":23.0,"lo":11.88,"hi":12.12},
{"r":12,"t":24.67,"t2":24.67,"lo":11.72,"hi":12.28},
{"r":12,"t":24.76,"t2":24.76,"lo":11.65,"hi":12.35},
{"r":12,"t":24.83,"t2":24.83,"lo":10.10,"hi":13.74},
{"r":12,"t":24.92,"t2":24.92,"lo":11.72,"hi":12.28},
{"r":12,"t":25.02,"t2":25.02,"lo":11.8,"hi":12.2},
{"r":12,"t":25.6,"t2":25.6,"lo":11.88,"hi":12.12},
{"r":12,"t":26.4,"t2":26.4,"lo":11.88,"hi":12.12},
{"r":12,"t":27.2,"t2":27.2,"lo":11.88,"hi":12.12},
{"r":12,"t":28.0,"t2":28.0,"lo":11.88,"hi":12.12},
{"r":12,"t":28.8,"t2":28.8,"lo":11.88,"hi":12.12},
{"r":12,"t":29.6,"t2":29.6,"lo":11.88,"hi":12.12},
{"r":13,"t":0,"t2":30,"lo":13,"hi":13},
{"r":13,"t":0.2,"t2":0.2,"lo":12.88,"hi":13.12},
{"r":13,"t":0.79,"t2":0.79,"lo":12.79,"hi":13.21},
{"r":13,"t":0.89,"t2":0.89,"lo":12.72,"hi":13.28},
{"r":13,"t":0.98,"t2":0.98,"lo":12.72,"hi":13.28},
{"r":13,"t":1.08,"t2":1.08,"lo":12.79,"hi":13.21},
{"r":13,"t":1.17,"t2":1.17,"lo":12.86,"hi":13.14},
{"r":13,"t":1.6,"t2":1.6,"lo":12.88,"hi":13.12},
{"r":13,"t":2.4,"t2":2.4,"lo":12.88,"hi":13.12},
{"r":13,"t":3.2,"t2":3.2,"lo":12.88,"hi":13.12},
{"r":13,"t":4.0,"t2":4.0,"lo":12.88,"hi":13.12},
{"r":13,"t":4.8,"t2":4.8,"lo":12.88,"hi":13.12},
{"r":13,"t":5.6,"t2":5.6,"lo":12.88,"hi":13.12},
{"r":13,"t":6.4,"t2":6.4,"lo":12.88,"hi":13.12},
{"r":13,"t":7.2,"t2":7.2,"lo":12.88,"hi":13.12},
{"r":13,"t":8.0,"t2":8.0,"lo":12.88,"hi":13.12},
{"r":13,"t":8.8,"t2":8.8,"lo":12.88,"hi":13.12},
{"r":13,"t":9.6,"t2":9.6,"lo":12.88,"hi":13.12},
{"r":13,"t":10.4,"t2":10.4,"lo":12.88,"hi":13.12},
{"r":13,"t":11.2,"t2":11.2,"lo":12.88,"hi":13.12},
{"r":13,"t":12.0,"t2":12.0,"lo":12.88,"hi":13.12},
{"r":13,"t":12.8,"t2":12.8,"lo":12.88,"hi":13.12},
{"r":13,"t":13.6,"t2":13.6,"lo":12.88,"hi":13.12},
{"r":13,"t":14.4,"t2":14.4,"lo":12.88,"hi":13.12},
{"r":13,"t":15.49,"t2":15.49,"lo":12.79,"hi":13.21},
{"r":13,"t":16.2,"t2":16.2,"lo":12.88,"hi":13.12},
{"r":13,"t":21.0,"t2":21.0,"lo":12.88,"hi":13.12},
{"r":13,"t":21.8,"t2":21.8,"lo":12.88,"hi":13.12},
{"r":13,"t":22.6,"t2":22.6,"lo":12.88,"hi":13.12},
{"r":13,"t":23.2,"t2":23.2,"lo":12.8,"hi":13.2},
{"r":13,"t":24.2,"t2":24.2,"lo":12.88,"hi":13.12},
{"r":13,"t":25.0,"t2":25.0,"lo":12.88,"hi":13.12},
{"r":13,"t":25.8,"t2":25.8,"lo":12.88,"hi":13.12},
{"r":13,"t":26.6,"t2":26.6,"lo":12.88,"hi":13.12},
{"r":13,"t":27.4,"t2":27.4,"lo":12.88,"hi":13.12},
{"r":13,"t":28.92,"t2":28.92,"lo":12.8,"hi":13.2},
{"r":13,"t":29.05,"t2":29.05,"lo":12.79,"hi":13.21},
{"r":13,"t":29.2,"t2":29.2,"lo":12.79,"hi":13.21},
{"r":13,"t":29.35,"t2":29.35,"lo":12.8,"hi":13.2},
{"r":13,"t":29.5,"t2":29.5,"lo":12.8,"hi":13.2},
{"r":13,"t":29.65,"t2":29.65,"lo":12.86,"hi":13.14},
{"r":14,"t":0,"t2":1.27,"lo":14,"hi":14},
{"r":14,"t":0.3,"t2":0.3,"lo":13.9,"hi":14.1},
{"r":14,"t":0.6,"t2":0.6,"lo":13.9,"hi":14.1},
{"r":14,"t":0.9,"t2":0.9,"lo":13.9,"hi":14.1},
{"r":14,"t":1.1,"t2":1.1,"lo":13.9,"hi":14.1}
]},
"mark":{"type":"rule","strokeWidth":2.5,"strokeCap":"butt","clip":true},
"encoding":{
"x":{"field":"t","type":"quantitative","scale":{"domain":[0,30],"nice":false,"zero":false},
 "axis":{"orient":"top","labels":false,"ticks":false,"domain":false,"grid":false,"title":"2015-01-02","titleFont":"DejaVu Serif","titleFontSize":17,"titleFontWeight":"normal","titleColor":"#000000","titleAnchor":"end","titleAlign":"right","titleX":945,"titleY":32,"titleBaseline":"alphabetic"}},
"x2":{"field":"t2"},
"y":{"field":"lo","type":"quantitative","scale":{"domain":[-5.84,48.22],"reverse":true,"nice":false,"zero":false},
 "axis":{"values":[0,1,2,3,4,5,6,7,8,9,10,11,12,13,14,15,16,17,18,19,20,21,22,23,24,25,26,27,28,29,30,31,32,33,34,35,36,37,38,39,40,41,42,43,44,45,46,47],
 "labelExpr":"(floor(datum.value/2) < 10 ? '0' : '') + floor(datum.value/2) + ':' + (datum.value % 2 == 0 ? '00' : '30')",
 "domain":false,"ticks":false,"grid":false,"labelPadding":9,"labelFont":"DejaVu Serif","labelFontSize":10,"labelColor":"#000000","labelOverlap":false,"labelBound":false,
 "title":"HHZ - 50000","titleFont":"DejaVu Serif","titleFontSize":11,"titleFontWeight":"normal","titleColor":"#000000","titleX":-55,"titleY":420,"titleAngle":-90,"titleAlign":"center","titleBaseline":"alphabetic"}},
"y2":{"field":"hi"},
"color":{"field":"r","type":"ordinal","scale":{"domain":[0,1,2,3,4,5,6,7,8,9,10,11,12,13,14],"range":["#0000ff","#ff0040","#0000ff","#ff0040","#0000ff","#ff0040","#0000ff","#ff0040","#0000ff","#ff0040","#0000ff","#ff0040","#0000ff","#ff0040","#0000ff"]},"legend":null}
}
}
